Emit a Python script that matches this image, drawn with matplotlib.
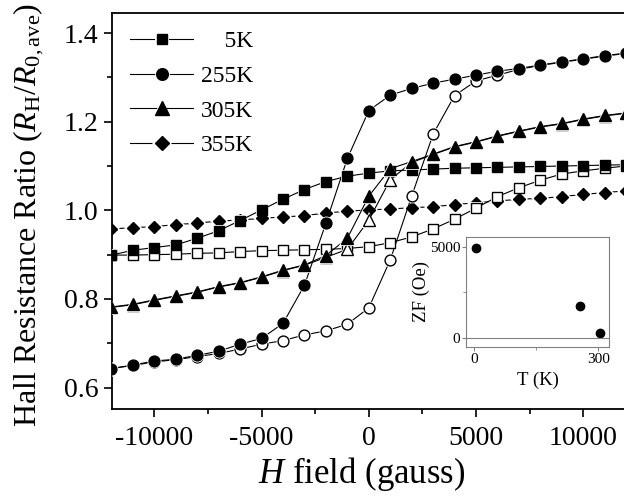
import matplotlib
matplotlib.use("Agg")
import matplotlib.pyplot as plt
from matplotlib.lines import Line2D
from matplotlib.ticker import MultipleLocator

plt.rcParams['font.family'] = ['Liberation Serif', 'DejaVu Serif']
plt.rcParams['mathtext.fontset'] = 'custom'
plt.rcParams['mathtext.rm'] = 'Liberation Serif'
plt.rcParams['mathtext.it'] = 'Liberation Serif:italic'
plt.rcParams['axes.unicode_minus'] = False

# field sweep (gauss)
H = [-12000, -11000, -10000, -9000, -8000, -7000, -6000, -5000, -4000, -3000, -2000, -1000,
     0, 1000, 2000, 3000, 4000, 5000, 6000, 7000, 8000, 9000, 10000, 11000, 12000]

# 5K
sq_down = [0.899, 0.910, 0.916, 0.922, 0.937, 0.954, 0.977, 1.001, 1.025, 1.047, 1.065, 1.077,
           1.084, 1.089, 1.091, 1.093, 1.095, 1.096, 1.097, 1.098, 1.099, 1.100, 1.101, 1.102, 1.103]
sq_up = [0.899, 0.899, 0.900, 0.901, 0.903, 0.904, 0.907, 0.909, 0.910, 0.911, 0.912, 0.914,
         0.918, 0.927, 0.940, 0.958, 0.980, 1.005, 1.031, 1.051, 1.068, 1.082, 1.089, 1.095, 1.100]
# 255K
ci_down = [0.643, 0.651, 0.660, 0.664, 0.673, 0.682, 0.698, 0.711, 0.745, 0.831, 0.971, 1.117,
           1.225, 1.260, 1.275, 1.287, 1.296, 1.305, 1.314, 1.320, 1.328, 1.335, 1.342, 1.349, 1.355]
ci_up = [0.643, 0.650, 0.658, 0.663, 0.670, 0.677, 0.687, 0.698, 0.706, 0.719, 0.728, 0.743,
         0.780, 0.888, 1.032, 1.172, 1.259, 1.292, 1.305, 1.318, 1.327, 1.334, 1.341, 1.348, 1.354]
# 305K
tr_down = [0.782, 0.788, 0.798, 0.807, 0.816, 0.828, 0.837, 0.850, 0.865, 0.877, 0.898, 0.937,
           1.032, 1.094, 1.110, 1.127, 1.144, 1.155, 1.168, 1.179, 1.189, 1.196, 1.206, 1.214, 1.220]
tr_up = [0.781, 0.787, 0.797, 0.806, 0.815, 0.827, 0.836, 0.849, 0.864, 0.876, 0.894, 0.912,
         0.978, 1.069, 1.108, 1.126, 1.143, 1.154, 1.167, 1.178, 1.188, 1.195, 1.205, 1.213, 1.219]
# 355K
di = [0.958, 0.961, 0.963, 0.968, 0.971, 0.976, 0.978, 0.982, 0.985, 0.988, 0.994, 0.998,
      1.001, 1.003, 1.006, 1.008, 1.013, 1.017, 1.021, 1.025, 1.027, 1.031, 1.036, 1.040, 1.044]

labels = ['    5K', '255K', '305K', '355K']

# inset: zero field crossing vs temperature
T = [5, 255, 305]
ZF = [4950, 1780, 270]

fig = plt.figure(figsize=(6.24, 5.01), dpi=100)
ax = fig.add_axes([0.18, 0.183, 0.82, 0.7917])


def draw(x, y, marker, ms, filled, z):
    """line, white halo, then the marker itself"""
    ax.plot(x, y, '-', color='k', lw=0.8, zorder=z)
    ax.plot(x, y, ls='none', marker=marker, ms=ms + 2.2, mfc='white', mec='white',
            mew=0, zorder=z + 0.1)
    ax.plot(x, y, ls='none', marker=marker, ms=ms, mfc='k' if filled else 'white',
            mec='k', mew=1.0, zorder=z + 0.2)


draw(H, di, 'D', 6.6, True, 2)
draw(H, ci_up, 'o', 7.8, False, 3)
draw(H, ci_down, 'o', 7.8, True, 4)
draw(H, sq_up, 's', 6.5, False, 5)
draw(H, sq_down, 's', 6.5, True, 6)
draw(H, tr_up, '^', 8.8, False, 7)
draw(H, tr_down, '^', 8.8, True, 8)

ax.set_xlim(-11960, 11900)
ax.set_ylim(0.551, 1.446)
ax.xaxis.set_major_locator(MultipleLocator(5000))
ax.xaxis.set_minor_locator(MultipleLocator(2500))
ax.yaxis.set_major_locator(MultipleLocator(0.2))
ax.yaxis.set_minor_locator(MultipleLocator(0.1))
ax.yaxis.set_major_formatter(plt.FormatStrFormatter('%.1f'))
ax.tick_params(which='both', direction='out', width=1.2, labelsize=20)
ax.tick_params(which='major', length=6, pad=4)
ax.tick_params(which='minor', length=3.5)
ax.tick_params(axis='x', which='major', pad=6)
ax.spines['right'].set_visible(False)
for s in ['left', 'bottom', 'top']:
    ax.spines[s].set_linewidth(1.3)

ax.set_xlabel('$H$ field (gauss)', fontsize=25)
ax.xaxis.set_label_coords(0.488, -0.115)
ax.set_ylabel(r'Hall Resistance Ratio ($R_{\mathrm{H}}/R_{\mathrm{0,ave}}$)', fontsize=23)
ax.yaxis.set_label_coords(-0.129, 0.49)

# legend with line, halo and marker overlaid
handles = []
for m, ms in [('s', 7.7), ('o', 8.4), ('^', 10.5), ('D', 7.6)]:
    ln = Line2D([], [], color='k', lw=0.8)
    halo = Line2D([], [], ls='none', marker=m, ms=ms + 2.2, mfc='white', mec='white', mew=0)
    mk = Line2D([], [], ls='none', marker=m, ms=ms, mfc='k', mec='k')
    handles.append((ln, halo, mk))
ax.legend(handles, labels, loc='upper left', bbox_to_anchor=(0.034, 0.955), frameon=False,
          fontsize=17, handlelength=2.7, handletextpad=0.3, labelspacing=0.56,
          borderaxespad=0, borderpad=0)

# inset
ins = fig.add_axes([0.7468, 0.3068, 0.2297, 0.2208])
ins.plot(T, ZF, 'o', color='k', ms=6)
ins.axhline(0, color='grey', lw=0.8)
ins.set_xlim(-19, 327)
ins.set_ylim(-490, 5546)
ins.set_xticks([0, 300])
ins.set_yticks([0, 5000])
ins.xaxis.set_minor_locator(MultipleLocator(150))
ins.yaxis.set_minor_locator(MultipleLocator(2500))
ins.tick_params(which='both', direction='out', color='grey', labelsize=11, pad=1)
ins.tick_params(which='major', length=3)
ins.tick_params(which='minor', length=2)
for s in ins.spines.values():
    s.set_color('grey')
    s.set_linewidth(0.8)
ins.set_xlabel('T (K)', fontsize=13.5, labelpad=4)
ins.set_ylabel('ZF (Oe)', fontsize=13.5, labelpad=0)

fig.savefig('out.png', dpi=100)
